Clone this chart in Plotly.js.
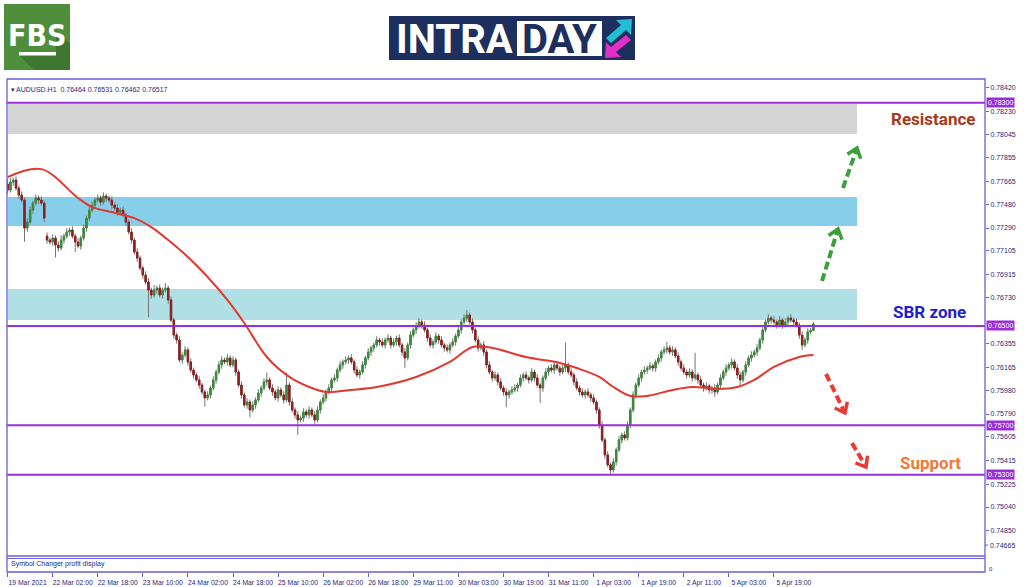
<!DOCTYPE html>
<html><head><meta charset="utf-8">
<script src="https://cdn.plot.ly/plotly-3.0.1.min.js"></script>
<style>html,body{margin:0;padding:0;background:#fff;}#chart{width:1024px;height:587px;}</style>
</head><body><div id="chart"></div>
<script>
// ---- data ----
const sessions = [['19 Mar',10,23],['22 Mar',0,23],['23 Mar',0,23],['24 Mar',0,23],['25 Mar',0,23],['26 Mar',0,22],
  ['29 Mar',0,23],['30 Mar',0,23],['31 Mar',0,23],['1 Apr',0,23],['2 Apr',0,23],['5 Apr',0,23],['6 Apr',0,9]];
const closes = [
0.77596,0.77661,0.77677,0.77612,0.77556,0.77516,0.77290,0.77338,0.77435,0.77491,
0.77532,0.77516,0.77491,0.77370,0.77193,0.77177,0.77209,0.77153,0.77129,0.77193,
0.77225,0.77258,0.77274,0.77225,0.77177,0.77145,0.77209,0.77290,0.77370,0.77435,
0.77475,0.77516,0.77532,0.77499,0.77548,0.77532,0.77516,0.77475,0.77451,0.77419,
0.77435,0.77395,0.77338,0.77258,0.77193,0.77096,0.77048,0.76967,0.76911,0.76855,
0.76790,0.76750,0.76790,0.76806,0.76750,0.76790,0.76806,0.76710,0.76548,0.76427,
0.76387,0.76226,0.76266,0.76307,0.76210,0.76145,0.76105,0.76065,0.76024,0.75968,
0.75920,0.75944,0.76000,0.76065,0.76129,0.76186,0.76226,0.76210,0.76242,0.76186,
0.76226,0.76129,0.76024,0.75944,0.75863,0.75887,0.75823,0.75863,0.75904,0.75960,
0.76000,0.76049,0.76065,0.76000,0.75968,0.75920,0.75984,0.75944,0.75904,0.76024,
0.75887,0.75823,0.75783,0.75742,0.75758,0.75807,0.75783,0.75823,0.75783,0.75742,
0.75823,0.75887,0.75920,0.75968,0.76000,0.76065,0.76081,0.76145,0.76186,0.76210,
0.76226,0.76242,0.76210,0.76145,0.76105,0.76129,0.76186,0.76242,0.76290,0.76323,
0.76347,0.76387,0.76371,0.76347,0.76387,0.76403,0.76347,0.76371,0.76403,0.76347,
0.76290,0.76242,0.76347,0.76427,0.76468,0.76500,0.76532,0.76508,0.76468,0.76403,
0.76347,0.76371,0.76419,0.76387,0.76347,0.76323,0.76307,0.76347,0.76371,0.76419,
0.76468,0.76532,0.76564,0.76589,0.76532,0.76468,0.76387,0.76323,0.76347,0.76290,
0.76186,0.76129,0.76081,0.76105,0.76049,0.76000,0.75968,0.75944,0.75968,0.75984,
0.76000,0.76024,0.76081,0.76105,0.76081,0.76065,0.76129,0.76081,0.76024,0.76000,
0.76081,0.76129,0.76161,0.76145,0.76186,0.76161,0.76129,0.76161,0.76186,0.76129,
0.76105,0.76049,0.76000,0.75968,0.75944,0.75968,0.75944,0.75920,0.75887,0.75823,
0.75702,0.75581,0.75460,0.75380,0.75339,0.75404,0.75501,0.75581,0.75621,0.75597,
0.75702,0.75823,0.75944,0.76024,0.76081,0.76129,0.76145,0.76161,0.76178,0.76161,
0.76210,0.76242,0.76290,0.76307,0.76323,0.76290,0.76307,0.76258,0.76210,0.76161,
0.76129,0.76105,0.76129,0.76081,0.76105,0.76065,0.76024,0.76000,0.76016,0.75984,
0.76000,0.75968,0.76024,0.76081,0.76129,0.76161,0.76186,0.76210,0.76161,0.76105,
0.76065,0.76129,0.76186,0.76242,0.76266,0.76290,0.76323,0.76387,0.76468,0.76532,
0.76564,0.76548,0.76532,0.76508,0.76548,0.76508,0.76532,0.76564,0.76548,0.76532,
0.76508,0.76427,0.76347,0.76387,0.76452,0.76464,0.76517];
const gapOpens = {0: 0.77645, 14: 0.77225};
// wick lengths in pips (0.0001)
const wickUp = [
4,3,2,3,2,3,2,3,3,2, 3,2,3,2,3,2,3,2,3,4, 2,3,2,3,2,3,2,3,2,3, 3,2,3,2,3,2,2,3,2,3,
2,3,2,2,3,2,3,2,2,3, 3,2,4,2,3,2,4,2,3,2, 2,3,2,3,2,3,2,2,3,2, 2,3,2,3,2,3,3,2,3,2,
3,2,2,3,2,3,2,3,2,3, 2,3,6,2,3,2,3,2,3,10, 2,3,2,3,2,3,2,3,2,3, 3,2,3,2,3,2,3,2,3,2,
3,2,3,2,3,2,3,2,3,2, 2,3,2,3,2,3,2,3,2,3, 2,3,2,3,2,3,3,2,3,2, 3,2,3,2,3,2,3,2,3,2,
3,2,3,4,2,3,2,3,2,3, 2,3,2,3,2,3,2,3,2,3, 3,2,3,2,3,2,3,2,3,2, 2,3,2,3,2,3,2,3,18,2,
3,2,3,2,3,2,3,2,3,2, 2,3,2,3,2,3,2,3,2,3, 3,2,3,2,3,2,3,2,3,2, 2,3,2,3,5,2,3,2,3,2,
3,2,3,2,18,2,3,2,3,2, 2,3,2,3,2,3,2,3,2,3, 3,2,3,2,3,2,3,2,3,2, 3,2,3,2,3,2,3,2,3,2,
3,2,3,2,3,2,1.4];
const wickDn = [
3,2,3,2,3,2,11,3,2,3, 2,3,2,3,3,2,3,10,3,2, 3,2,3,2,8,2,3,2,3,2, 2,3,2,3,2,3,2,3,2,3,
3,2,3,2,3,2,3,2,3,2, 22,3,2,3,2,3,2,3,2,3, 3,2,3,2,3,2,3,2,3,2, 7,2,3,2,3,2,3,2,3,2,
2,3,2,3,2,3,6,2,3,2, 3,2,3,2,3,2,3,2,3,2, 3,2,3,12,2,3,2,3,2,3, 2,3,2,3,2,3,2,3,2,3,
2,3,2,3,2,3,2,3,2,3, 3,2,3,2,3,2,3,2,3,2, 3,8,2,3,2,3,2,3,2,3, 2,3,2,3,2,3,2,3,2,3,
2,3,2,3,2,3,2,3,2,3, 3,2,3,2,3,2,3,10,3,2, 2,3,2,3,2,3,2,3,2,12, 3,2,3,2,3,2,3,2,3,2,
2,3,2,3,2,3,2,3,2,3, 3,2,3,2,3,2,3,2,3,2, 2,3,2,3,2,3,2,3,2,3, 3,2,3,2,3,2,3,2,3,2,
2,3,2,3,2,3,2,3,2,3, 3,4,2,3,2,3,2,3,2,3, 6,2,3,2,3,2,3,2,3,2, 2,3,2,3,2,3,2,3,2,3,
2,3,4,2,3,2,0.2];
// moving average, read at selected bars
const maBars = [0,12,25,30,37,45,51,57,64,71,78,84,92,100,107,113,122,131,145,157,165,172,184,196,202,210,215,221,227,236,243,252,259,265,272,281,286];
const maVals = [0.77701,0.77765,0.77532,0.77459,0.77419,0.77370,0.77298,0.77193,0.77056,0.76895,0.76710,0.76524,0.76250,0.76089,0.76008,0.75968,0.75984,0.76008,0.76089,0.76210,0.76331,0.76323,0.76250,0.76202,0.76161,0.76089,0.76008,0.75936,0.75936,0.75984,0.76008,0.75992,0.76008,0.76065,0.76170,0.76250,0.76266];
const tickCats = ['19 Mar 10:00','22 Mar 02:00','22 Mar 18:00','23 Mar 10:00','24 Mar 02:00','24 Mar 18:00','25 Mar 10:00','26 Mar 02:00','26 Mar 18:00','29 Mar 11:00','30 Mar 03:00','30 Mar 19:00','31 Mar 11:00','1 Apr 03:00','1 Apr 19:00','2 Apr 11:00','5 Apr 03:00','5 Apr 19:00'];
const tickLabels = ['19 Mar 2021','22 Mar 02:00','22 Mar 18:00','23 Mar 10:00','24 Mar 02:00','24 Mar 18:00','25 Mar 10:00','26 Mar 02:00','26 Mar 18:00','29 Mar 11:00','30 Mar 03:00','30 Mar 19:00','31 Mar 11:00','1 Apr 03:00','1 Apr 19:00','2 Apr 11:00','5 Apr 03:00','5 Apr 19:00'];
const priceTicks = [0.78420,0.78230,0.78045,0.77855,0.77665,0.77480,0.77290,0.77105,0.76915,0.76730,0.76355,0.76165,0.75980,0.75790,0.75605,0.75415,0.75225,0.75040,0.74850];
const levels = [0.78300,0.76500,0.75700,0.75300];
const zoneLow = [0.78048,0.77306,0.76548];
const zoneHigh = [0.78290,0.77540,0.76798];
const header = '\u25BE AUDUSD.H1  0.76464 0.76531 0.76462 0.76517';

// ---- derived ----
const cats = [];
sessions.forEach(([d,a,b]) => { for (let h=a; h<=b; h++) cats.push(d+' '+String(h).padStart(2,'0')+':00'); });
const opens = closes.map((c,i) => (gapOpens[i] !== undefined ? gapOpens[i] : closes[i-1]));
const bodyHi = closes.map((c,i) => Math.max(c, opens[i]));
const bodyLo = closes.map((c,i) => Math.min(c, opens[i]));
const highs = bodyHi.map((v,i) => v + wickUp[i]*1e-4);
const lows = bodyLo.map((v,i) => v - wickDn[i]*1e-4);

// ---- pixel helpers for decorations ----
const L=7, T=79, PW=978, PH=493;
const px = X => (X-L)/PW, py = Y => (T+PH-Y)/PH;

const UP='#3b8b3b', DN='#8e1f1f', WICK='#757575';
const traces = [
 {type:'candlestick', x:cats, open:opens, high:highs, low:lows, close:closes, hoverinfo:'skip', whiskerwidth:0,
  increasing:{line:{color:WICK,width:1}, fillcolor:WICK}, decreasing:{line:{color:WICK,width:1}, fillcolor:WICK}},
 {type:'candlestick', x:cats, open:opens, high:bodyHi, low:bodyLo, close:closes, hoverinfo:'skip', whiskerwidth:0,
  increasing:{line:{color:UP,width:1}, fillcolor:UP}, decreasing:{line:{color:DN,width:1}, fillcolor:DN}},
 {type:'scatter', mode:'lines', x:maBars.map(i=>cats[i]), y:maVals, hoverinfo:'skip',
  line:{color:'#e3382f', width:2, shape:'spline', smoothing:1}}
];

const FRAME='#6a5fd6', PURPLE='#9b2fd6', AXTXT='#1f1f7a';
const shapes = [];
zoneLow.forEach((lo,k) => shapes.push({type:'rect', xref:'paper', yref:'y', x0:px(8), x1:px(857), y0:lo, y1:zoneHigh[k],
  fillcolor:['#d4d4d4','#87ceeb','#b0e0e6'][k], line:{width:0}, layer:'below'}));
levels.forEach(v => shapes.push({type:'line', xref:'paper', yref:'y', x0:0, x1:1, y0:v, y1:v, line:{color:PURPLE, width:2}}));
// frame
shapes.push({type:'rect', xref:'paper', yref:'paper', x0:0, x1:1, y0:0, y1:1, line:{color:FRAME, width:1.3}});
shapes.push({type:'line', xref:'paper', yref:'paper', x0:0, x1:1, y0:py(556), y1:py(556), line:{color:FRAME, width:1.3}});
shapes.push({type:'line', xref:'paper', yref:'paper', x0:0, x1:1, y0:py(558.5), y1:py(558.5), line:{color:FRAME, width:1}});
// tick for bottom label
shapes.push({type:'line', xref:'paper', yref:'paper', x0:1, x1:px(988), y0:py(545), y1:py(545), line:{color:FRAME, width:1}});

function arrow(x0,y0,x1,y1,color){
  const dx=x1-x0, dy=y1-y0, len=Math.hypot(dx,dy), ux=dx/len, uy=dy/len, nx=-uy, ny=ux;
  const bx=x1-ux*9, by=y1-uy*9;
  shapes.push({type:'line', xref:'paper', yref:'paper', x0:px(x0), y0:py(y0), x1:px(x1-ux*3), y1:py(y1-uy*3), line:{color, width:4, dash:'8px,4px'}});
  const w1=[bx+nx*7, by+ny*7], w2=[bx-nx*7, by-ny*7];
  shapes.push({type:'path', xref:'paper', yref:'paper', line:{color, width:3.5},
    path:`M${px(w1[0])},${py(w1[1])} L${px(x1)},${py(y1)} L${px(w2[0])},${py(w2[1])}`});
}
arrow(822,281,838,229,'#3c9e3c');
arrow(843,188,857,148,'#3c9e3c');
arrow(826,374,845,413,'#ea3a36');
arrow(852,443,866,467,'#ea3a36');

// logos
shapes.push({type:'rect', xref:'paper', yref:'paper', x0:px(4), x1:px(70), y0:py(4), y1:py(70), fillcolor:'#4f8e3b', line:{width:0}});
shapes.push({type:'path', xref:'paper', yref:'paper', fillcolor:'#3f7630', line:{width:0},
  path:`M${px(19)},${py(55)} L${px(56)},${py(55)} L${px(56)},${py(30)} L${px(70)},${py(44)} L${px(70)},${py(70)} L${px(34)},${py(70)} Z`});
shapes.push({type:'rect', xref:'paper', yref:'paper', x0:px(19), x1:px(56), y0:py(52), y1:py(55.5), fillcolor:'#ffffff', line:{width:0}});
shapes.push({type:'rect', xref:'paper', yref:'paper', x0:px(389), x1:px(635), y0:py(16), y1:py(60), fillcolor:'#1c2f5e', line:{width:0}});
shapes.push({type:'rect', xref:'paper', yref:'paper', x0:px(517), x1:px(602), y0:py(21), y1:py(56), fillcolor:'#ffffff', line:{width:0}});
const P = pts => 'M' + pts.map(p => px(p[0])+','+py(p[1])).join(' L') + ' Z';
shapes.push({type:'path', xref:'paper', yref:'paper', fillcolor:'#22bfd4', line:{width:0},
  path:P([[632,19],[616,20],[621,25],[606,38],[611,43],[626,30],[631,35]])});
shapes.push({type:'path', xref:'paper', yref:'paper', fillcolor:'#e22fc6', line:{width:0},
  path:P([[605,58],[621,57],[616,52],[631,40],[626,35],[611,47],[606,42]])});

const ann = [];
function txt(text, X, Y, size, color, family, xanchor){
  ann.push({xref:'paper', yref:'paper', x:px(X), y:py(Y), text, showarrow:false, xanchor:xanchor||'left', yanchor:'middle',
    font:{family:family||'Liberation Sans, DejaVu Sans', size, color}});
}
txt(header, 9, 89, 7, AXTXT);
txt('Symbol Changer profit display', 9, 564, 7, AXTXT);
txt('0.74665', 988, 545, 7, AXTXT);
txt('0', 987, 569, 6, AXTXT);
txt('<b>Resistance</b>', 933, 119, 17, '#a63a1b', 'Roboto, Liberation Sans', 'center');
txt('<b>SBR zone</b>', 929, 312, 17, '#1e1ecf', 'Roboto, Liberation Sans', 'center');
txt('<b>Support</b>', 930, 463, 17, '#f07a36', 'Roboto, Liberation Sans', 'center');
txt('<b>FBS</b>', 37, 36, 30, '#ffffff', 'Liberation Sans Narrow, DejaVu Sans Condensed, Roboto', 'center');
txt('<b>INTRA</b>', 394, 39.5, 40, '#ffffff', 'Roboto, Liberation Sans');
txt('<b>DAY</b>', 559.5, 39.5, 40, '#1c2f5e', 'Roboto, Liberation Sans', 'center');
levels.forEach(v => ann.push({xref:'paper', yref:'y', x:1, y:v, xshift:1, text:v.toFixed(5), showarrow:false, xanchor:'left', yanchor:'middle',
  bgcolor:PURPLE, borderpad:1, font:{family:'Liberation Sans, DejaVu Sans', size:7, color:'#ffffff'}}));

const layout = {
  width:1024, height:587, margin:{l:L, r:1024-L-PW, t:T, b:587-T-PH, pad:0},
  paper_bgcolor:'#ffffff', plot_bgcolor:'#ffffff', showlegend:false, dragmode:false,
  xaxis:{type:'category', range:[-0.21,346.9], tickmode:'array', tickvals:tickCats, ticktext:tickLabels,
    ticks:'outside', ticklen:4, tickcolor:FRAME, tickwidth:1, ticklabelshift:20, ticklabelstandoff:0,
    tickfont:{family:'Liberation Sans, DejaVu Sans', size:6.8, color:AXTXT}, showgrid:false, zeroline:false, showline:false,
    anchor:'free', position:0, rangeslider:{visible:false}, fixedrange:true},
  yaxis:{side:'right', range:[0.74645,0.78492], domain:[16/PH,1], tickmode:'array', tickvals:priceTicks, tickformat:'.5f',
    ticks:'outside', ticklen:3, tickcolor:FRAME, tickfont:{family:'Liberation Sans, DejaVu Sans', size:7, color:AXTXT},
    showgrid:false, zeroline:false, showline:false, fixedrange:true},
  shapes, annotations:ann
};
Plotly.newPlot('chart', traces, layout, {displayModeBar:false, staticPlot:true});
</script></body></html>
